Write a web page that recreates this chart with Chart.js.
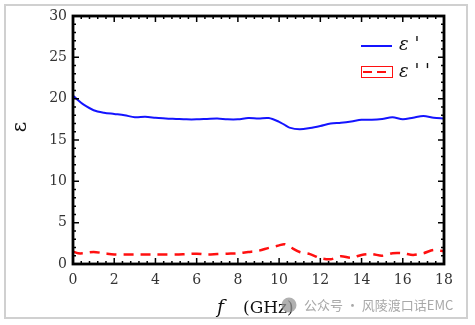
<!DOCTYPE html>
<html>
<head>
<meta charset="utf-8">
<script src="https://cdn.jsdelivr.net/npm/chart.js@4.4.1/dist/chart.umd.min.js"></script>
<style>
  html, body { margin: 0; padding: 0; background: #fff; }
</style>
</head>
<body>
<canvas id="myChart" width="475" height="325"></canvas>
<script>
// frequency (GHz)
var freq = [0, 0.25, 0.5, 1, 1.5, 2, 2.5, 3, 3.5, 4, 4.5, 5, 5.5, 6, 6.5, 7, 7.5, 8, 8.5, 9,
            9.5, 10, 10.25, 10.5, 11, 11.5, 12, 12.5, 13, 13.5, 14, 14.5, 15, 15.5, 16, 16.5, 17, 17.5, 18];
// real part  eps'
var epsReal = [20.4, 19.8, 19.3, 18.6, 18.3, 18.15, 18.0, 17.75, 17.8, 17.7, 17.6, 17.55, 17.5, 17.5, 17.55, 17.6, 17.5, 17.5, 17.65, 17.6,
               17.65, 17.2, 16.85, 16.5, 16.3, 16.45, 16.7, 17.0, 17.1, 17.25, 17.45, 17.45, 17.55, 17.75, 17.5, 17.7, 17.9, 17.7, 17.6];
// imaginary part  eps''
var epsImag = [1.5, 1.3, 1.3, 1.45, 1.3, 1.15, 1.15, 1.15, 1.15, 1.15, 1.15, 1.15, 1.2, 1.25, 1.15, 1.2, 1.25, 1.3, 1.45, 1.6,
               1.95, 2.25, 2.4, 2.1, 1.45, 1.2, 0.7, 0.57, 0.95, 0.75, 1.1, 1.2, 1.0, 1.3, 1.3, 1.1, 1.3, 1.7, 1.55];

var xTicks = [0, 2, 4, 6, 8, 10, 12, 14, 16, 18];
var yTicks = [0, 5, 10, 15, 20, 25, 30];
var seriesLabels = ["\u03b5 '", "\u03b5 ' '"];

function pts(xs, ys) {
  return xs.map(function (x, i) { return { x: x, y: ys[i] }; });
}

var serif = "'DejaVu Serif', serif";

var framePlugin = {
  id: 'framePlugin',
  beforeDraw: function (chart) {
    var c = chart.ctx;
    c.save();
    c.fillStyle = '#fff';
    c.fillRect(0, 0, chart.width, chart.height);
    c.strokeStyle = '#d0d0d0';
    c.lineWidth = 2;
    c.strokeRect(5, 5, 462, 313);
    c.restore();
  },
  afterDatasetsDraw: function (chart) {
    var c = chart.ctx, a = chart.chartArea;
    var xs = chart.scales.x, ys = chart.scales.y;
    c.save();
    c.strokeStyle = '#000';
    c.lineWidth = 1.5;
    c.beginPath();
    // x ticks, minor every 0.4
    for (var i = 0; i <= 45; i++) {
      var px = xs.getPixelForValue(i * 0.4);
      var len = (i % 5 === 0) ? 6 : 3;
      c.moveTo(px, a.bottom); c.lineTo(px, a.bottom - len);
      c.moveTo(px, a.top); c.lineTo(px, a.top + len);
    }
    // y ticks, minor every 1
    for (var j = 0; j <= 30; j++) {
      var py = ys.getPixelForValue(j);
      var l2 = (j % 5 === 0) ? 6 : 3;
      c.moveTo(a.left, py); c.lineTo(a.left + l2, py);
      c.moveTo(a.right, py); c.lineTo(a.right - l2, py);
    }
    c.stroke();
    c.lineWidth = 2.8;
    c.strokeRect(a.left, a.top, a.right - a.left, a.bottom - a.top);
    c.restore();
  },
  afterDraw: function (chart) {
    var c = chart.ctx;
    var ds = chart.data.datasets;
    c.save();
    // legend
    c.strokeStyle = ds[0].borderColor;
    c.lineWidth = 2;
    c.beginPath(); c.moveTo(361, 46); c.lineTo(392, 46); c.stroke();
    c.strokeStyle = ds[1].borderColor;
    c.lineWidth = 1;
    c.strokeRect(361.5, 66.5, 31, 11);
    c.lineWidth = 2;
    c.setLineDash([9, 5]);
    c.beginPath(); c.moveTo(363, 72); c.lineTo(391, 72); c.stroke();
    c.setLineDash([]);
    c.fillStyle = '#111';
    c.font = "italic 18px " + serif;
    c.textBaseline = 'middle';
    c.textAlign = 'left';
    c.fillText(ds[0].label, 399, 45);
    c.fillText(ds[1].label, 399, 72);
    // y title (rotated)
    c.save();
    c.translate(21, 127);
    c.rotate(-Math.PI / 2);
    c.textAlign = 'center';
    c.textBaseline = 'middle';
    c.font = "20px " + serif;
    c.fillStyle = '#111';
    c.fillText('\u03b5', 0, 0);
    c.restore();
    // x title
    c.textBaseline = 'alphabetic';
    c.font = "italic 19px " + serif;
    c.fillStyle = '#111';
    c.fillText('f', 217, 313);
    c.font = "17px " + serif;
    c.fillText('(GHz)', 243, 313);
    // watermark
    c.fillStyle = 'rgba(150,150,150,0.75)';
    c.beginPath(); c.arc(289, 305, 7.5, 0, Math.PI * 2); c.fill();
    c.fillStyle = '#a8a8a8';
    c.font = "13px 'Noto Sans CJK SC', sans-serif";
    c.textBaseline = 'middle';
    c.fillText('\u516c\u4f17\u53f7 \u00b7 \u98ce\u9675\u6e21\u53e3\u8bddEMC', 304, 305);
    c.restore();
  }
};

new Chart("myChart", {
  type: "line",
  data: {
    datasets: [{
      label: seriesLabels[0],
      data: pts(freq, epsReal),
      borderColor: "#1414ff",
      borderWidth: 2,
      pointRadius: 0,
      tension: 0.3,
      fill: false
    }, {
      label: seriesLabels[1],
      data: pts(freq, epsImag),
      borderColor: "#ff1010",
      borderWidth: 2.5,
      borderDash: [10, 7],
      pointRadius: 0,
      tension: 0.3,
      fill: false
    }]
  },
  options: {
    responsive: false,
    animation: false,
    devicePixelRatio: 1,
    layout: { padding: { top: 16, right: 31, left: 0, bottom: 0 } },
    plugins: {
      legend: { display: false },
      tooltip: { enabled: false }
    },
    scales: {
      x: {
        type: "linear",
        min: 0, max: 18,
        afterBuildTicks: function (s) { s.ticks = xTicks.map(function (v) { return { value: v }; }); },
        afterFit: function (s) { s.height = 61; },
        grid: { display: false, drawTicks: false },
        border: { display: false },
        ticks: { padding: 8, color: "#333", font: { family: serif, size: 14 }, maxRotation: 0 }
      },
      y: {
        min: 0, max: 30,
        afterBuildTicks: function (s) { s.ticks = yTicks.map(function (v) { return { value: v }; }); },
        afterFit: function (s) { s.width = 73; },
        grid: { display: false, drawTicks: false },
        border: { display: false },
        ticks: { padding: 6, color: "#333", font: { family: serif, size: 14 } }
      }
    }
  },
  plugins: [framePlugin]
});
</script>
</body>
</html>
